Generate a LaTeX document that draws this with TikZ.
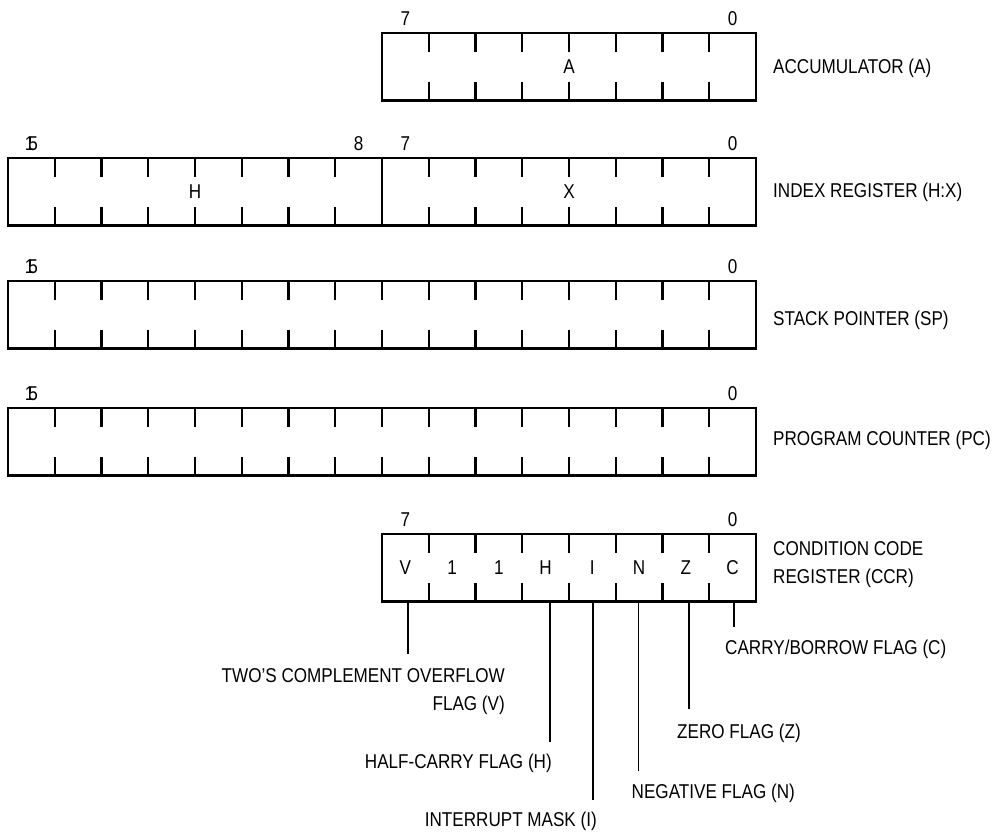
\documentclass[tikz,border=0pt]{standalone}
\usepackage{fontspec}
\setmainfont{Liberation Sans}[FakeStretch=0.855]
\begin{document}
\begin{tikzpicture}[x=1pt,y=-1pt,
  reg/.style={draw, line width=2.8pt, inner sep=0pt, outer sep=0pt, minimum height=67.5pt, anchor=north west},
  tick/.style={line width=2.4pt},
  lbl/.style={inner sep=0pt, font=\fontsize{20}{28}\selectfont},
  callout/.style={line width=1.1pt}]
\useasboundingbox (0,0) rectangle (998,833);
\def\cw{46.75}
% ---------- Accumulator ----------
\node[reg, minimum width=374pt] (A) at (382,33) {};
\foreach \i in {1,...,7}{
  \draw[tick] ([xshift=\i*\cw pt]A.north west) -- ++(0,18.5);
  \draw[tick] ([xshift=\i*\cw pt]A.south west) -- ++(0,-18.5);}
\node[lbl] (Atxt) at (A.center) {A};
\node[lbl] (A7) at ([xshift=23.4pt, yshift=14pt]A.north west) {7};
\node[lbl] (A0) at ([xshift=-23.4pt, yshift=14pt]A.north east) {0};
\node[lbl, anchor=west] (Alab) at (773,68) {ACCUMULATOR (A)};
% ---------- Index register ----------
\node[reg, minimum width=748pt] (IX) at (8,158) {};
\foreach \i in {1,...,7,9,10,...,15}{
  \draw[tick] ([xshift=\i*\cw pt]IX.north west) -- ++(0,18.5);
  \draw[tick] ([xshift=\i*\cw pt]IX.south west) -- ++(0,-18.5);}
\draw[tick] ([xshift=8*\cw pt]IX.north west) -- ([xshift=8*\cw pt]IX.south west);
\node[lbl] (IXh) at ([xshift=4*\cw pt]IX.west) {H};
\node[lbl] (IXx) at ([xshift=12*\cw pt]IX.west) {X};
\node[lbl] (IX15) at ([xshift=23.4pt, yshift=14pt]IX.north west) {1\kern-6pt 5};
\node[lbl] (IX8) at ([xshift=7.5*\cw pt, yshift=14pt]IX.north west) {8};
\node[lbl] (IX7) at ([xshift=8.5*\cw pt, yshift=14pt]IX.north west) {7};
\node[lbl] (IX0) at ([xshift=-23.4pt, yshift=14pt]IX.north east) {0};
\node[lbl, anchor=west] (IXlab) at (773,192) {INDEX REGISTER (H:X)};
% ---------- Stack pointer ----------
\node[reg, minimum width=748pt] (SP) at (8,281) {};
\foreach \i in {1,...,15}{
  \draw[tick] ([xshift=\i*\cw pt]SP.north west) -- ++(0,18.5);
  \draw[tick] ([xshift=\i*\cw pt]SP.south west) -- ++(0,-18.5);}
\node[lbl] (SP15) at ([xshift=23.4pt, yshift=14pt]SP.north west) {1\kern-6pt 5};
\node[lbl] (SP0) at ([xshift=-23.4pt, yshift=14pt]SP.north east) {0};
\node[lbl, anchor=west] (SPlab) at (773,320) {STACK POINTER (SP)};
% ---------- Program counter ----------
\node[reg, minimum width=748pt] (PC) at (8,408) {};
\foreach \i in {1,...,15}{
  \draw[tick] ([xshift=\i*\cw pt]PC.north west) -- ++(0,18.5);
  \draw[tick] ([xshift=\i*\cw pt]PC.south west) -- ++(0,-18.5);}
\node[lbl] (PC15) at ([xshift=23.4pt, yshift=14pt]PC.north west) {1\kern-6pt 5};
\node[lbl] (PC0) at ([xshift=-23.4pt, yshift=14pt]PC.north east) {0};
\node[lbl, anchor=west] (PClab) at (773,440) {PROGRAM COUNTER (PC)};
% ---------- Condition code register ----------
\node[reg, minimum width=374pt] (CCR) at (382,534) {};
\foreach \i in {1,...,7}{
  \draw[tick] ([xshift=\i*\cw pt]CCR.north west) -- ++(0,18.5);
  \draw[tick] ([xshift=\i*\cw pt]CCR.south west) -- ++(0,-18.5);}
\foreach \t [count=\i] in {V,1,1,H,I,N,Z,C}
  \node[lbl] (ccr\i) at ([xshift=\i*\cw pt-23.4pt]CCR.west) {\t};
\node[lbl] (CCR7) at ([xshift=23.4pt, yshift=14pt]CCR.north west) {7};
\node[lbl] (CCR0) at ([xshift=-23.4pt, yshift=14pt]CCR.north east) {0};
\node[lbl, anchor=west, align=left] (CCRlab) at (773,565) {CONDITION CODE\\REGISTER (CCR)};
% ---------- Flag callouts ----------
\coordinate (sV) at (408,601);   \coordinate (eV) at (408,654);
\coordinate (sH) at (550,601);   \coordinate (eH) at (550,742);
\coordinate (sI) at (593,601);   \coordinate (eI) at (593,800);
\coordinate (sN) at (638.5,601); \coordinate (eN) at (638.5,771);
\coordinate (sZ) at (689,601);   \coordinate (eZ) at (689,709);
\coordinate (sC) at (734,601);   \coordinate (eC) at (734,627);
\foreach \f in {V,H,I,N,Z,C} \draw[callout] (s\f) -- (e\f);
\node[lbl, anchor=east, align=right] (tV) at (505,692) {TWO’S COMPLEMENT OVERFLOW\\FLAG (V)};
\node[lbl, anchor=east] (tH) at (552,763) {HALF-CARRY FLAG (H)};
\node[lbl, anchor=east] (tI) at (597,821) {INTERRUPT MASK (I)};
\node[lbl, anchor=west] (tN) at (631.5,793) {NEGATIVE FLAG (N)};
\node[lbl, anchor=west] (tZ) at (677,733) {ZERO FLAG (Z)};
\node[lbl, anchor=west] (tC) at (725,649) {CARRY/BORROW FLAG (C)};
\end{tikzpicture}
\end{document}
